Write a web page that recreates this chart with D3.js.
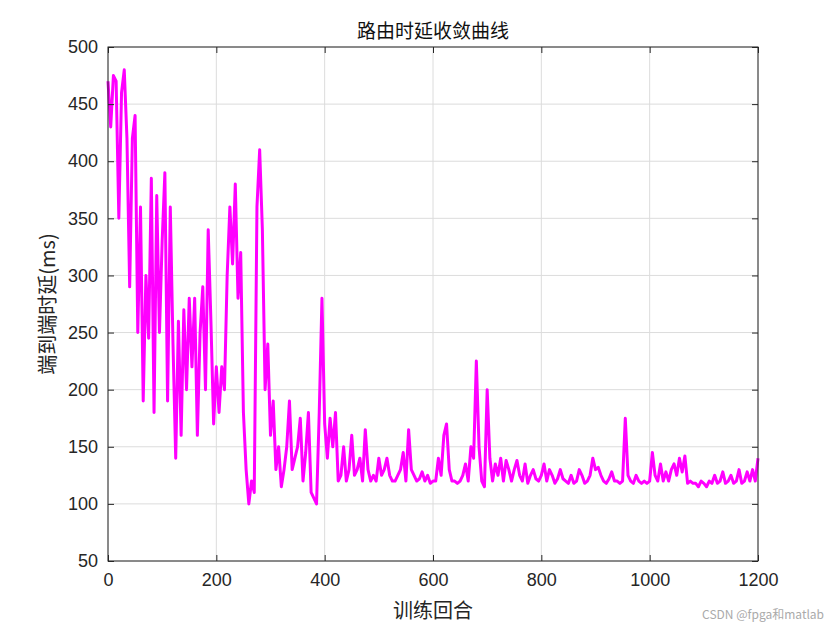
<!DOCTYPE html>
<html>
<head>
<meta charset="utf-8">
<script src="https://cdn.jsdelivr.net/npm/d3@7"></script>
<style>
  body { margin: 0; background: #fff; }
  text { font-family: "Noto Sans CJK SC", "Noto Sans", sans-serif; }
</style>
</head>
<body>
<div id="chart"></div>
<script>
const step = 5;
const delay = [
  470, 430, 475, 470, 350, 460, 480, 420, 290, 420, 440, 250, 360, 190, 300, 245, 385, 180, 370, 250,
  330, 390, 190, 360, 240, 140, 260, 160, 270, 200, 280, 220, 280, 160, 250, 290, 200, 340, 260, 170,
  220, 180, 220, 200, 300, 360, 310, 380, 280, 320, 180, 130, 100, 120, 110, 360, 410, 340, 200, 240,
  160, 190, 130, 150, 115, 130, 150, 190, 130, 140, 150, 175, 120, 145, 180, 110, 105, 100, 180, 280,
  170, 140, 175, 150, 180, 120, 125, 150, 120, 130, 160, 125, 130, 140, 120, 165, 130, 120, 125, 120,
  140, 125, 130, 140, 125, 120, 120, 125, 130, 145, 120, 165, 130, 125, 120, 122, 128, 120, 125, 118,
  120, 120, 140, 125, 160, 170, 130, 120, 120, 118, 120, 125, 135, 120, 150, 140, 225, 150, 120, 115,
  200, 140, 120, 135, 125, 140, 120, 138, 130, 120, 130, 138, 125, 120, 135, 118, 125, 130, 122, 120,
  125, 135, 120, 130, 125, 118, 122, 130, 122, 120, 118, 125, 118, 120, 130, 125, 118, 120, 125, 140,
  130, 132, 125, 120, 118, 122, 128, 120, 120, 118, 120, 175, 125, 120, 118, 125, 120, 118, 120, 118,
  120, 145, 125, 120, 135, 120, 128, 120, 130, 135, 125, 140, 128, 142, 118, 120, 118, 118, 115, 120,
  118, 115, 120, 118, 125, 118, 120, 128, 118, 120, 125, 118, 120, 130, 118, 120, 128, 120, 130, 120,
  140
];
const xTicks = [0, 200, 400, 600, 800, 1000, 1200];
const yTicks = [50, 100, 150, 200, 250, 300, 350, 400, 450, 500];

const width = 839, height = 630;
const margin = { top: 47, right: 81, bottom: 69, left: 108 };
const w = width - margin.left - margin.right;
const h = height - margin.top - margin.bottom;

const svg = d3.select('#chart').append('svg')
  .attr('width', width)
  .attr('height', height);

const g = svg.append('g')
  .attr('transform', `translate(${margin.left},${margin.top})`);

const x = d3.scaleLinear().domain([0, 1200]).range([0, w]);
const y = d3.scaleLinear().domain([50, 500]).range([h, 0]);

// grid
g.selectAll('.gx').data(xTicks).join('line')
  .attr('x1', d => x(d)).attr('x2', d => x(d))
  .attr('y1', 0).attr('y2', h)
  .attr('stroke', '#dcdcdc').attr('stroke-width', 1);
g.selectAll('.gy').data(yTicks).join('line')
  .attr('y1', d => y(d)).attr('y2', d => y(d))
  .attr('x1', 0).attr('x2', w)
  .attr('stroke', '#dcdcdc').attr('stroke-width', 1);

// line
const line = d3.line()
  .x((d, i) => x(i * step))
  .y(d => y(d));

g.append('path')
  .datum(delay)
  .attr('fill', 'none')
  .attr('stroke', '#ff00ff')
  .attr('stroke-width', 3)
  .attr('stroke-linejoin', 'round')
  .attr('d', line);

// axes
const styleAxis = sel => {
  sel.select('.domain').remove();
  sel.selectAll('.tick line').attr('stroke', '#262626');
  sel.selectAll('.tick text').attr('fill', '#262626').attr('font-size', 18)
    .style('font-family', 'Arial, "Liberation Sans", sans-serif');
};

g.append('g')
  .attr('transform', `translate(0,${h})`)
  .call(d3.axisBottom(x).tickValues(xTicks).tickFormat(d3.format('d')).tickSize(-6).tickPadding(12))
  .call(styleAxis);
g.append('g')
  .call(d3.axisLeft(y).tickValues(yTicks).tickFormat(d3.format('d')).tickSize(-6).tickPadding(10))
  .call(styleAxis);
g.append('g')
  .call(d3.axisTop(x).tickValues(xTicks).tickSize(-6).tickFormat(''))
  .call(styleAxis);
g.append('g')
  .attr('transform', `translate(${w},0)`)
  .call(d3.axisRight(y).tickValues(yTicks).tickSize(-6).tickFormat(''))
  .call(styleAxis);

g.append('rect')
  .attr('width', w).attr('height', h)
  .attr('fill', 'none').attr('stroke', '#262626').attr('stroke-width', 1);

// labels
svg.append('text')
  .attr('x', margin.left + w / 2).attr('y', 38)
  .attr('text-anchor', 'middle').attr('font-size', 19).attr('fill', '#111')
  .text('路由时延收敛曲线');

svg.append('text')
  .attr('x', margin.left + w / 2).attr('y', 618)
  .attr('text-anchor', 'middle').attr('font-size', 20).attr('fill', '#262626')
  .text('训练回合');

svg.append('text')
  .attr('transform', `translate(55,${margin.top + h / 2}) rotate(-90)`)
  .attr('text-anchor', 'middle').attr('font-size', 20).attr('fill', '#262626')
  .text('端到端时延(ms)');

svg.append('text')
  .attr('x', 824).attr('y', 619)
  .attr('text-anchor', 'end').attr('font-size', 12).attr('fill', '#aaa')
  .text('CSDN @fpga和matlab');
</script>
</body>
</html>
